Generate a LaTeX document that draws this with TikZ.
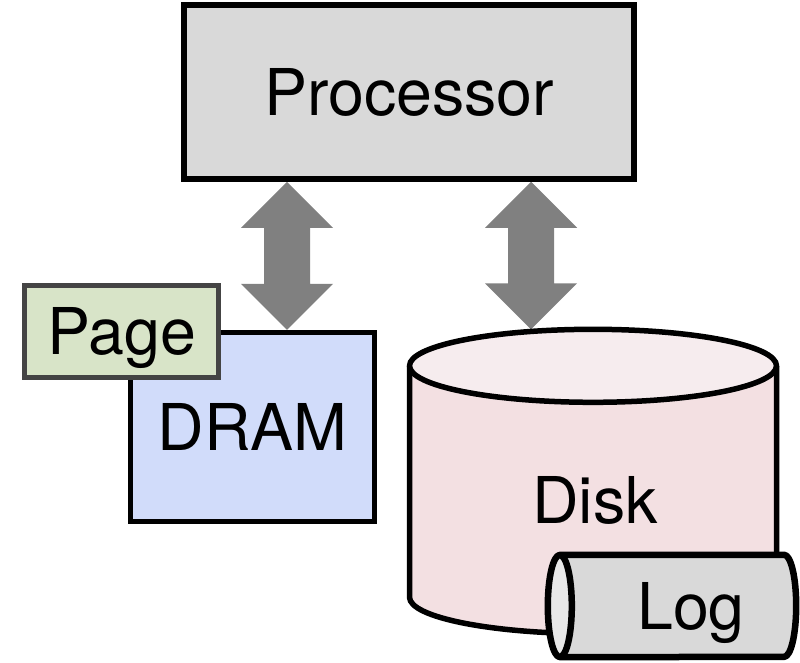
\documentclass[tikz,border=0pt]{standalone}
\usepackage{fontspec}
\setmainfont{TeX Gyre Heros}
\usetikzlibrary{backgrounds,calc}
\definecolor{procfill}{HTML}{D9D9D9}
\definecolor{dramfill}{HTML}{D1DCFA}
\definecolor{pagefill}{HTML}{D8E4C8}
\definecolor{pageborder}{HTML}{444444}
\definecolor{diskbody}{HTML}{F3E0E2}
\definecolor{disktop}{HTML}{F6ECEE}
\definecolor{logbody}{HTML}{D9D9D9}
\definecolor{logend}{HTML}{E8E8E8}
\definecolor{arrowgray}{HTML}{808080}
\newcommand\myfatarrow[2]{%
  \fill[arrowgray] (#1) -- ([shift={(46,-46)}]#1) -- ([shift={(23,-46)}]#1)
    -- ([shift={(23,46)}]#2) -- ([shift={(46,46)}]#2) -- (#2)
    -- ([shift={(-46,46)}]#2) -- ([shift={(-23,46)}]#2)
    -- ([shift={(-23,-46)}]#1) -- ([shift={(-46,-46)}]#1) -- cycle;}
\begin{document}
\begin{tikzpicture}[x=1pt,y=1pt,
  txt/.style={font=\fontsize{64.5}{72}\selectfont, text height=46pt, text depth=0pt, inner sep=0pt},
  box/.style={txt, draw=black, line width=5.5pt, rectangle},
  outline/.style={draw=black, line width=5.5pt, line join=round}]
\useasboundingbox (0,0) rectangle (800,-662);
% boxes
\node[box, fill=procfill, minimum width=450, minimum height=174] (proc) at (409,-92) {Processor};
\node[box, fill=dramfill, minimum width=244, minimum height=189] (dram) at (252.5,-427) {DRAM};
\node[box, draw=pageborder, fill=pagefill, minimum width=194, minimum height=92] (page) at (121.5,-331.5) {Page};
% disk
\node[inner sep=0pt, minimum width=367, minimum height=304] (disk) at (593,-481.5) {};
\coordinate (dtc) at ([yshift=-36.5]disk.north);
\coordinate (dbc) at ([yshift=36.5]disk.south);
\fill[diskbody] ([xshift=-183.5]dtc) -- ([xshift=-183.5]dbc) arc[start angle=180, end angle=360, x radius=183.5, y radius=36.5] -- ([xshift=183.5]dtc) -- cycle;
\draw[outline] ([xshift=-183.5]dtc) -- ([xshift=-183.5]dbc) arc[start angle=180, end angle=360, x radius=183.5, y radius=36.5] -- ([xshift=183.5]dtc);
\draw[outline, fill=disktop] (dtc) ellipse[x radius=183.5, y radius=36.5];
\node[txt] (disklabel) at (595,-500) {Disk};
% log
\node[inner sep=0pt, minimum width=224, minimum height=102] (log) at (672,-606) {};
\draw[outline, line width=6.5pt, fill=logbody] (log.north west) -- (log.north east) arc[start angle=90, end angle=-90, x radius=12, y radius=51] -- (log.south west) -- cycle;
\draw[outline, line width=6.5pt, fill=logend] (log.west) ellipse[x radius=12, y radius=51];
\node[txt] (loglabel) at (691,-606) {Log};
% arrows
\coordinate (a1) at (287,0);
\coordinate (a2) at (531,0);
\begin{pgfonlayer}{background}
\coordinate (t1) at (proc.south -| a1);
\coordinate (b1) at (dram.north -| a1);
\coordinate (t2) at (proc.south -| a2);
\coordinate (b2) at (disk.north -| a2);
\myfatarrow{t1}{b1}
\myfatarrow{t2}{b2}
\end{pgfonlayer}
\end{tikzpicture}
\end{document}
